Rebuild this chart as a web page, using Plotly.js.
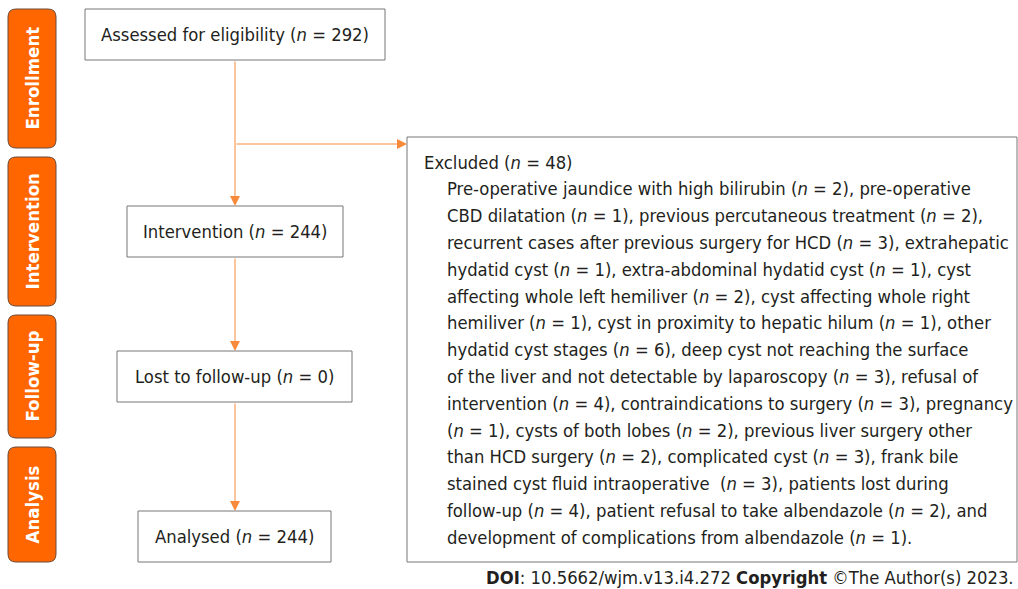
<!DOCTYPE html>
<html>
<head>
<meta charset="utf-8">
<script src="https://cdn.plot.ly/plotly-3.0.1.min.js"></script>
<style>html,body{margin:0;padding:0;background:#fff;}#chart{width:1018px;height:589px;}</style>
</head>
<body>
<div id="chart"></div>
<script>
// ---- content ----
const stages = ['Enrollment', 'Intervention', 'Follow-up', 'Analysis'];
const stepLabels = ['Assessed for eligibility', 'Intervention', 'Lost to follow-up', 'Analysed'];
const stepCounts = [292, 244, 0, 244];
const excludedLabel = 'Excluded';
const excludedCount = 48;
const excludedLines = [
  'Pre-operative jaundice with high bilirubin (<i>n</i> = 2), pre-operative',
  'CBD dilatation (<i>n</i> = 1), previous percutaneous treatment (<i>n</i> = 2),',
  'recurrent cases after previous surgery for HCD (<i>n</i> = 3), extrahepatic',
  'hydatid cyst (<i>n</i> = 1), extra-abdominal hydatid cyst (<i>n</i> = 1), cyst',
  'affecting whole left hemiliver (<i>n</i> = 2), cyst affecting whole right',
  'hemiliver (<i>n</i> = 1), cyst in proximity to hepatic hilum (<i>n</i> = 1), other',
  'hydatid cyst stages (<i>n</i> = 6), deep cyst not reaching the surface',
  'of the liver and not detectable by laparoscopy (<i>n</i> = 3), refusal of',
  'intervention (<i>n</i> = 4), contraindications to surgery (<i>n</i> = 3), pregnancy',
  '(<i>n</i> = 1), cysts of both lobes (<i>n</i> = 2), previous liver surgery other',
  'than HCD surgery (<i>n</i> = 2), complicated cyst (<i>n</i> = 3), frank bile',
  'stained cyst fluid intraoperative &nbsp;(<i>n</i> = 3), patients lost during',
  'follow-up (<i>n</i> = 4), patient refusal to take albendazole (<i>n</i> = 2), and',
  'development of complications from albendazole (<i>n</i> = 1).'
];
const footer = '<b>DOI</b>: 10.5662/wjm.v13.i4.272 <b>Copyright</b> ©The Author(s) 2023.';

// ---- geometry (layout only) ----
const W = 1018, H = 589;
const tabX = [8, 56];
const tabY = [[9, 148], [157, 306], [315, 438], [447, 562]];
const boxes = [[85, 385, 9, 60], [127, 343, 206, 257], [117, 352, 351, 402], [138, 331, 511, 562]];
const exBox = [407, 1017, 137, 562];
const spineX = 235, branchY = 144;
const orange = '#FF6600', lineCol = '#F98A3C';
const font = 'DejaVu Sans Condensed, DejaVu Sans, sans-serif';
const fs = 18.3;

function rounded(x0, x1, y0, y1, r) {
  return `M${x0 + r},${y0} H${x1 - r} Q${x1},${y0} ${x1},${y0 + r} V${y1 - r} Q${x1},${y1} ${x1 - r},${y1} H${x0 + r} Q${x0},${y1} ${x0},${y1 - r} V${y0 + r} Q${x0},${y0} ${x0 + r},${y0} Z`;
}

const shapes = [];
const annotations = [];

stages.forEach((s, i) => {
  const [y0, y1] = tabY[i];
  shapes.push({type: 'path', xref: 'x', yref: 'y', path: rounded(tabX[0], tabX[1], y0, y1, 8),
    fillcolor: orange, line: {color: '#6b4a3a', width: 1}});
  annotations.push({x: (tabX[0] + tabX[1]) / 2, y: (y0 + y1) / 2, xref: 'x', yref: 'y',
    text: '<b>' + s + '</b>', textangle: -90, showarrow: false,
    font: {family: font, size: 18.5, color: '#ffffff'}});
});

stepLabels.forEach((lab, i) => {
  const [x0, x1, y0, y1] = boxes[i];
  shapes.push({type: 'rect', xref: 'x', yref: 'y', x0, x1, y0, y1,
    fillcolor: '#ffffff', line: {color: '#777777', width: 1}});
  annotations.push({x: (x0 + x1) / 2, y: (y0 + y1) / 2, xref: 'x', yref: 'y',
    text: lab + ' (<i>n</i> = ' + stepCounts[i] + ')', showarrow: false,
    font: {family: font, size: fs, color: '#231f20'}});
});

shapes.push({type: 'rect', xref: 'x', yref: 'y', x0: exBox[0], x1: exBox[1], y0: exBox[2], y1: exBox[3],
  fillcolor: '#ffffff', line: {color: '#777777', width: 1}});
const lh = 26.8, firstY = 162;
annotations.push({x: 422, y: firstY, xref: 'x', yref: 'y', xanchor: 'left',
  text: excludedLabel + ' (<i>n</i> = ' + excludedCount + ')', showarrow: false,
  font: {family: font, size: fs, color: '#231f20'}});
excludedLines.forEach((t, i) => {
  annotations.push({x: 445, y: firstY + lh * (i + 1), xref: 'x', yref: 'y', xanchor: 'left',
    text: t, showarrow: false, font: {family: font, size: fs, color: '#231f20'}});
});

// arrows
function arrow(x0, y0, x1, y1) {
  annotations.push({x: x1, y: y1, ax: x0, ay: y0, xref: 'x', yref: 'y', axref: 'x', ayref: 'y',
    text: '', showarrow: true, arrowhead: 2, arrowsize: 2, arrowwidth: 1, arrowcolor: lineCol, standoff: 0});
}
arrow(spineX, boxes[0][3], spineX, boxes[1][2]);
arrow(spineX, branchY, exBox[0], branchY);
arrow(spineX, boxes[1][3], spineX, boxes[2][2]);
arrow(spineX, boxes[2][3], spineX, boxes[3][2]);

annotations.push({x: 1016, y: 577, xref: 'x', yref: 'y', xanchor: 'right', text: footer, showarrow: false,
  font: {family: font, size: fs, color: '#231f20'}});

Plotly.newPlot('chart', [], {
  width: W, height: H, margin: {l: 0, r: 0, t: 0, b: 0},
  paper_bgcolor: '#ffffff', plot_bgcolor: '#ffffff',
  xaxis: {range: [0, W], visible: false, fixedrange: true},
  yaxis: {range: [H, 0], visible: false, fixedrange: true},
  shapes, annotations, showlegend: false
}, {staticPlot: true});
</script>
</body>
</html>
